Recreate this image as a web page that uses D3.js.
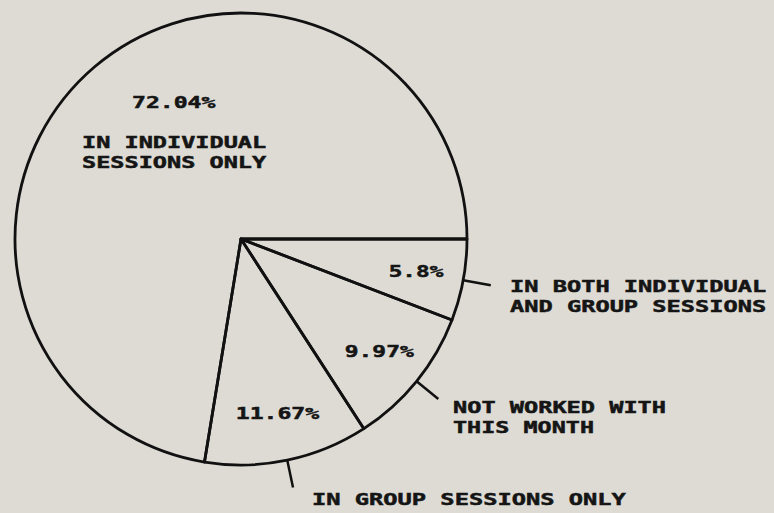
<!DOCTYPE html>
<html>
<head>
<meta charset="utf-8">
<script src="https://cdn.jsdelivr.net/npm/d3@7"></script>
<style>
  html, body { margin: 0; padding: 0; background: #dddbd4; }
  svg { display: block; }
  text { font-family: 'DejaVu Sans Mono', monospace; font-weight: bold; fill: #151515; stroke: #151515; stroke-width: 0.5; }
</style>
</head>
<body>
<svg id="chart" width="774" height="513"></svg>
<script>
// slices, clockwise from 3 o'clock
const categories = ['both', 'notWorked', 'groupOnly', 'individualOnly'];
const shares = [5.8, 9.97, 11.67, 72.04];
const pctLabels = ['5.8%', '9.97%', '11.67%', '72.04%'];
const categoryLines = [
    ['IN BOTH INDIVIDUAL', 'AND GROUP SESSIONS'],
    ['NOT WORKED WITH', 'THIS MONTH'],
    ['IN GROUP SESSIONS ONLY'],
    ['IN INDIVIDUAL', 'SESSIONS ONLY']
];

const width = 774, height = 513;
const cx = 241, cy = 239, radius = 226;
const pitch = 14.4;      // monospaced plotter lettering
const lineGap = 19.5;

const svg = d3.select('#chart');
const g = svg.append('g').attr('transform', `translate(${cx},${cy})`);

// Fixed-pitch text helper: stretch glyphs to match the plotter spacing
function plotText(sel, str, x, y, anchor) {
    const len = pitch * str.length - 3;
    let x0 = x;
    if (anchor === 'middle') x0 = x - len / 2;
    return sel.append('text')
        .attr('x', x0)
        .attr('y', y)
        .attr('font-size', 16.5)
        .attr('textLength', len)
        .attr('lengthAdjust', 'spacingAndGlyphs')
        .text(str);
}

const pie = d3.pie()
    .sort(null)
    .value(d => d)
    .startAngle(Math.PI / 2)
    .endAngle(Math.PI / 2 + 2 * Math.PI);

const arcs = pie(shares);

const arc = d3.arc().innerRadius(0).outerRadius(radius);
const labelArc = d3.arc().innerRadius(178).outerRadius(178);

// Wedges
g.selectAll('path.slice')
    .data(arcs)
    .enter()
    .append('path')
    .attr('class', 'slice')
    .attr('d', arc)
    .attr('fill', 'none')
    .attr('stroke', '#111')
    .attr('stroke-width', 2.8)
    .attr('stroke-linejoin', 'round');

// Leader lines for the three small slices
const leaderIn = d3.arc().innerRadius(radius).outerRadius(radius);
const leaderOut = d3.arc().innerRadius(radius + 28).outerRadius(radius + 28);
arcs.slice(0, 3).forEach(d => {
    const [x1, y1] = leaderIn.centroid(d);
    const [x2, y2] = leaderOut.centroid(d);
    g.append('line')
        .attr('x1', x1).attr('y1', y1)
        .attr('x2', x2).attr('y2', y2)
        .attr('stroke', '#111')
        .attr('stroke-width', 2.5);
});

// Percent labels inside the small slices
arcs.slice(0, 3).forEach((d, i) => {
    const [x, y] = labelArc.centroid(d);
    plotText(g, pctLabels[i], x, y + 6, 'middle');
});

// Big slice: percent and its category inside
plotText(svg, pctLabels[3], 132, 108, 'start');
categoryLines[3].forEach((s, k) => plotText(svg, s, 82, 148 + k * lineGap, 'start'));

// Outside category labels
const outsideAnchors = [[510, 292], [453, 413], [312, 505]];
outsideAnchors.forEach(([x, y], i) => {
    categoryLines[i].forEach((s, k) => plotText(svg, s, x, y + k * lineGap, 'start'));
});
</script>
</body>
</html>
